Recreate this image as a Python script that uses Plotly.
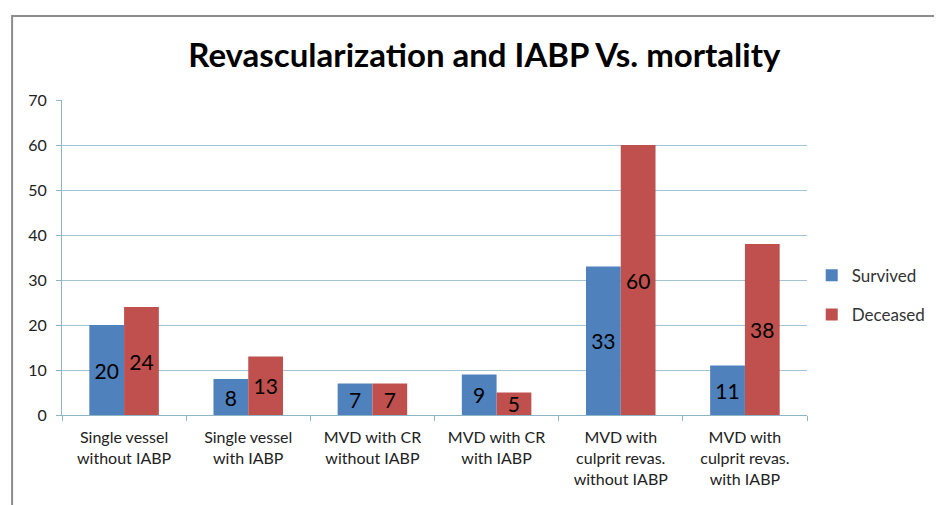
import plotly.graph_objects as go

# Categories and counts
categories = [
    'Single vessel<br>without IABP',
    'Single vessel<br>with IABP',
    'MVD with CR<br>without IABP',
    'MVD with CR<br>with IABP',
    'MVD with<br>culprit revas.<br>without IABP',
    'MVD with<br>culprit revas.<br>with IABP',
]
survived = [20, 8, 7, 9, 33, 11]
deceased = [24, 13, 7, 5, 60, 38]

font_family = 'Lato, Open Sans, sans-serif'

fig = go.Figure()
fig.add_trace(go.Bar(
    x=categories, y=survived, name='Survived', legendgroup='s',
    marker=dict(color='#4F81BD', line=dict(width=0)),
    text=survived, textposition='inside', insidetextanchor='middle', textangle=0,
    insidetextfont=dict(color='black', size=21, family=font_family),
    constraintext='none',
))
fig.add_trace(go.Bar(
    x=categories, y=deceased, name='Deceased', legendgroup='d',
    marker=dict(color='#C0504D', line=dict(width=0)),
    text=deceased, textposition='inside', insidetextanchor='middle', textangle=0,
    insidetextfont=dict(color='black', size=21, family=font_family),
    constraintext='none',
))

# page body adds an 8px offset, so the figure is sized to the remaining window
fig.update_layout(
    width=934, height=497,
    margin=dict(l=54, r=134, t=92, b=90),
    paper_bgcolor='white', plot_bgcolor='white',
    font=dict(family=font_family, size=15, color='#333333'),
    title=dict(text='<b>Revascularization and IABP Vs. mortality</b>',
               x=0.51, xanchor='center', y=0.905, yanchor='middle',
               font=dict(size=33, color='black', family=font_family)),
    barmode='group', bargap=0.44, bargroupgap=0,
    legend=dict(x=1.005, y=0.38, xanchor='left', yanchor='middle',
                font=dict(size=17, color='#333333'), tracegroupgap=14,
                itemwidth=30),
    xaxis=dict(showline=True, linecolor='#8EB4C8', linewidth=1,
               ticks='outside', tickson='boundaries', ticklen=5, tickcolor='#8EB4C8',
               ticklabelstandoff=8,
               tickfont=dict(size=16, color='#222222')),
    yaxis=dict(range=[0, 70], dtick=10, showgrid=True, gridcolor='#A3C3D4', gridwidth=1,
               showline=True, linecolor='#8EB4C8', linewidth=1,
               ticks='outside', ticklen=5, tickcolor='#8EB4C8', ticklabelstandoff=6,
               tickfont=dict(size=16, color='#222222'), zeroline=False),
    shapes=[dict(type='rect', xref='paper', yref='paper',
                 x0=-0.067, x1=1.3, y0=-0.4, y1=1.267,
                 line=dict(color='#8C8C8C', width=2), fillcolor='rgba(0,0,0,0)')],
)

fig.write_html("out.html")
